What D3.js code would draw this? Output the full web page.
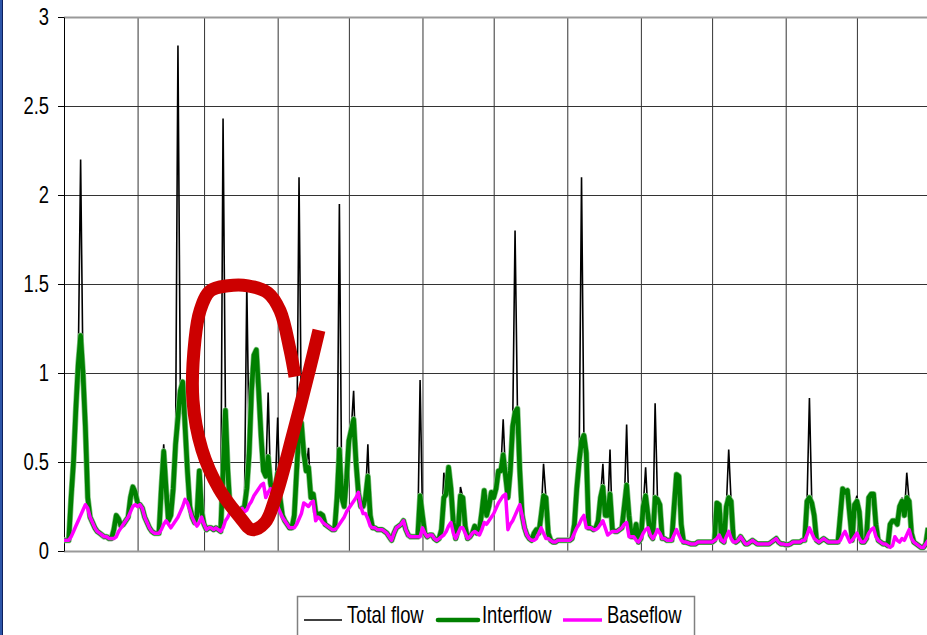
<!DOCTYPE html>
<html><head><meta charset="utf-8">
<script src="https://cdn.jsdelivr.net/npm/d3@7"></script>
<style>
body{margin:0;background:#fff;}
svg{display:block;}
text{font-family:'Liberation Sans',Arial,sans-serif;fill:#000;}
</style>
</head><body>
<svg id="chart" width="927" height="635"></svg>
<script>
// ---------- data ----------
const monthStarts = [0,31,59,90,120,151,181,212,243,273,304,334,365];
const yTicks = [0,0.5,1,1.5,2,2.5,3];
const yTickLabels = ["0","0.5","1","1.5","2","2.5","3"];
const seriesNames = ["Total flow","Interflow","Baseflow"];

const totalFlow = [
0.06,0.06,0.06,0.30,0.50,0.80,1.05,2.20,1.00,0.70,
0.30,0.19,0.16,0.13,0.11,0.10,0.09,0.08,0.08,0.07,
0.07,0.12,0.20,0.18,0.14,0.15,0.17,0.19,0.30,0.36,
0.33,0.27,0.26,0.24,0.19,0.16,0.13,0.11,0.10,0.10,
0.10,0.35,0.60,0.35,0.17,0.20,0.35,0.60,2.84,0.90,
0.95,0.70,0.45,0.25,0.19,0.16,0.20,0.45,0.22,0.15,
0.12,0.13,0.13,0.12,0.13,0.12,0.11,2.43,0.79,0.45,
0.23,0.23,0.20,0.21,0.22,0.24,0.25,1.50,0.55,0.90,
1.10,1.13,0.90,0.65,0.45,0.42,0.89,0.38,0.32,0.35,
0.75,0.30,0.20,0.17,0.15,0.13,0.13,0.20,0.45,2.10,
0.72,0.55,0.45,0.58,0.30,0.32,0.22,0.20,0.21,0.20,
0.15,0.14,0.13,0.12,0.12,0.30,1.95,0.30,0.25,0.40,
0.62,0.68,0.90,0.50,0.33,0.25,0.25,0.30,0.60,0.20,
0.13,0.13,0.12,0.12,0.12,0.11,0.10,0.08,0.06,0.10,
0.13,0.14,0.15,0.17,0.12,0.09,0.08,0.08,0.08,0.08,
0.96,0.20,0.10,0.08,0.09,0.09,0.07,0.06,0.07,0.12,
0.44,0.32,0.47,0.35,0.16,0.07,0.12,0.36,0.30,0.14,
0.07,0.08,0.10,0.14,0.10,0.12,0.22,0.34,0.20,0.25,
0.33,0.30,0.35,0.45,0.45,0.74,0.42,0.30,0.45,0.70,
1.80,0.80,0.45,0.20,0.13,0.09,0.07,0.06,0.10,0.12,
0.10,0.20,0.49,0.30,0.10,0.06,0.05,0.05,0.06,0.06,
0.06,0.06,0.06,0.06,0.07,0.15,0.35,0.50,2.10,0.65,
0.55,0.13,0.13,0.12,0.13,0.17,0.30,0.49,0.20,0.20,
0.57,0.12,0.11,0.11,0.12,0.13,0.25,0.71,0.20,0.08,
0.08,0.15,0.05,0.07,0.25,0.47,0.20,0.09,0.07,0.83,
0.29,0.26,0.07,0.07,0.06,0.06,0.06,0.25,0.43,0.42,
0.15,0.05,0.05,0.045,0.04,0.04,0.04,0.05,0.05,0.05,
0.05,0.05,0.05,0.05,0.06,0.27,0.26,0.06,0.05,0.25,
0.57,0.28,0.06,0.05,0.06,0.08,0.06,0.04,0.04,0.05,
0.06,0.05,0.04,0.04,0.04,0.04,0.04,0.04,0.05,0.06,
0.07,0.05,0.04,0.04,0.035,0.035,0.04,0.05,0.05,0.05,
0.05,0.06,0.06,0.28,0.86,0.27,0.20,0.06,0.05,0.06,
0.07,0.06,0.05,0.05,0.05,0.05,0.05,0.20,0.36,0.33,
0.34,0.20,0.06,0.26,0.31,0.22,0.05,0.05,0.07,0.30,
0.32,0.32,0.15,0.06,0.05,0.04,0.04,0.03,0.15,0.17,
0.17,0.15,0.25,0.30,0.20,0.44,0.28,0.10,0.05,0.04,
0.03,0.02,0.02,0.04,0.13];

const interflow = [
0.06,0.06,0.06,0.30,0.50,0.80,1.05,1.21,1.00,0.70,
0.30,0.19,0.16,0.13,0.11,0.10,0.09,0.08,0.08,0.07,
0.07,0.12,0.20,0.18,0.14,0.15,0.17,0.19,0.30,0.36,
0.33,0.27,0.26,0.24,0.19,0.16,0.13,0.11,0.10,0.10,
0.10,0.35,0.56,0.35,0.17,0.20,0.35,0.60,0.75,0.90,
0.95,0.70,0.45,0.25,0.19,0.16,0.20,0.45,0.22,0.15,
0.12,0.13,0.13,0.12,0.13,0.12,0.11,0.45,0.79,0.45,
0.23,0.23,0.20,0.21,0.22,0.24,0.25,0.35,0.55,0.90,
1.10,1.13,0.90,0.65,0.45,0.42,0.53,0.38,0.32,0.35,
0.44,0.30,0.20,0.17,0.15,0.13,0.13,0.20,0.45,0.68,
0.72,0.55,0.45,0.47,0.30,0.32,0.22,0.20,0.21,0.20,
0.15,0.14,0.13,0.12,0.12,0.30,0.57,0.30,0.25,0.40,
0.62,0.68,0.74,0.50,0.33,0.25,0.25,0.30,0.42,0.20,
0.13,0.13,0.12,0.12,0.12,0.11,0.10,0.08,0.06,0.10,
0.13,0.14,0.15,0.17,0.12,0.09,0.08,0.08,0.08,0.08,
0.31,0.20,0.10,0.08,0.09,0.09,0.07,0.06,0.07,0.12,
0.30,0.32,0.47,0.35,0.16,0.07,0.12,0.31,0.30,0.14,
0.07,0.08,0.10,0.14,0.10,0.12,0.22,0.34,0.20,0.25,
0.33,0.30,0.35,0.45,0.45,0.54,0.42,0.30,0.45,0.70,
0.78,0.80,0.45,0.20,0.13,0.09,0.07,0.06,0.10,0.12,
0.10,0.20,0.31,0.30,0.10,0.06,0.05,0.05,0.06,0.06,
0.06,0.06,0.06,0.06,0.07,0.15,0.35,0.50,0.62,0.65,
0.55,0.13,0.13,0.12,0.13,0.17,0.30,0.36,0.20,0.20,
0.32,0.12,0.11,0.11,0.12,0.13,0.25,0.37,0.20,0.08,
0.08,0.15,0.05,0.07,0.25,0.31,0.20,0.09,0.07,0.30,
0.29,0.26,0.07,0.07,0.06,0.06,0.06,0.25,0.43,0.42,
0.15,0.05,0.05,0.045,0.04,0.04,0.04,0.05,0.05,0.05,
0.05,0.05,0.05,0.05,0.06,0.27,0.26,0.06,0.05,0.25,
0.30,0.28,0.06,0.05,0.06,0.08,0.06,0.04,0.04,0.05,
0.06,0.05,0.04,0.04,0.04,0.04,0.04,0.04,0.05,0.06,
0.07,0.05,0.04,0.04,0.035,0.035,0.04,0.05,0.05,0.05,
0.05,0.06,0.06,0.28,0.30,0.27,0.20,0.06,0.05,0.06,
0.07,0.06,0.05,0.05,0.05,0.05,0.05,0.20,0.35,0.33,
0.34,0.20,0.06,0.26,0.28,0.22,0.05,0.05,0.07,0.30,
0.32,0.32,0.15,0.06,0.05,0.04,0.04,0.03,0.15,0.17,
0.17,0.15,0.25,0.28,0.20,0.30,0.28,0.10,0.05,0.04,
0.03,0.02,0.02,0.04,0.13];

const baseflow = [
0.06,0.06,0.06,0.08,0.11,0.14,0.17,0.20,0.23,0.26,
0.24,0.19,0.16,0.13,0.11,0.10,0.09,0.08,0.08,0.07,
0.07,0.07,0.08,0.11,0.13,0.15,0.17,0.19,0.22,0.25,
0.26,0.25,0.26,0.24,0.19,0.16,0.13,0.11,0.10,0.10,
0.10,0.12,0.15,0.17,0.15,0.13,0.15,0.17,0.19,0.22,
0.25,0.29,0.27,0.23,0.19,0.16,0.14,0.16,0.19,0.15,
0.12,0.13,0.13,0.12,0.13,0.12,0.11,0.13,0.17,0.19,
0.22,0.23,0.20,0.21,0.22,0.24,0.22,0.23,0.26,0.28,
0.31,0.33,0.35,0.37,0.38,0.30,0.33,0.35,0.31,0.27,
0.25,0.22,0.19,0.17,0.15,0.13,0.13,0.13,0.15,0.18,
0.21,0.27,0.26,0.25,0.27,0.28,0.17,0.19,0.18,0.16,
0.15,0.14,0.13,0.12,0.12,0.13,0.15,0.17,0.19,0.22,
0.24,0.26,0.28,0.30,0.33,0.25,0.21,0.21,0.18,0.14,
0.13,0.13,0.12,0.12,0.12,0.11,0.10,0.08,0.06,0.10,
0.13,0.14,0.15,0.17,0.12,0.09,0.08,0.08,0.08,0.08,
0.08,0.13,0.10,0.08,0.09,0.09,0.07,0.06,0.07,0.08,
0.09,0.11,0.14,0.16,0.10,0.07,0.10,0.13,0.13,0.10,
0.07,0.08,0.10,0.11,0.10,0.09,0.12,0.16,0.15,0.17,
0.19,0.21,0.24,0.27,0.29,0.31,0.32,0.12,0.15,0.17,
0.20,0.23,0.26,0.20,0.13,0.09,0.07,0.06,0.06,0.07,
0.10,0.13,0.10,0.07,0.07,0.06,0.05,0.05,0.06,0.06,
0.06,0.06,0.06,0.06,0.07,0.10,0.13,0.15,0.18,0.20,
0.13,0.13,0.13,0.12,0.12,0.13,0.15,0.17,0.13,0.09,
0.10,0.11,0.11,0.11,0.12,0.13,0.15,0.16,0.08,0.08,
0.08,0.06,0.05,0.07,0.10,0.12,0.13,0.09,0.07,0.09,
0.12,0.10,0.07,0.07,0.06,0.06,0.06,0.09,0.12,0.09,
0.06,0.05,0.05,0.045,0.04,0.04,0.04,0.05,0.05,0.05,
0.05,0.05,0.05,0.05,0.06,0.07,0.09,0.06,0.05,0.08,
0.11,0.07,0.05,0.05,0.06,0.08,0.06,0.04,0.04,0.05,
0.06,0.05,0.04,0.04,0.04,0.04,0.04,0.04,0.05,0.06,
0.07,0.05,0.04,0.04,0.035,0.035,0.04,0.05,0.05,0.05,
0.05,0.06,0.06,0.09,0.13,0.10,0.07,0.06,0.05,0.06,
0.07,0.06,0.05,0.05,0.05,0.05,0.05,0.06,0.09,0.11,
0.08,0.05,0.06,0.08,0.10,0.07,0.05,0.05,0.07,0.10,
0.12,0.13,0.08,0.06,0.05,0.04,0.04,0.03,0.02,0.03,
0.08,0.06,0.05,0.07,0.06,0.09,0.12,0.07,0.05,0.04,
0.03,0.02,0.02,0.04,0.06];

// hand-drawn red annotation stroke, in data coordinates [day, value]
const annotationDays   = [97.3,95.2,91.0,85.9,77.5,69.1,61.5,57.3,55.2,54.3,58.1,65.3,74.1,79.2,84.7,89.3,96.5,103.6,107.4];
const annotationValues = [0.98,1.13,1.35,1.45,1.49,1.49,1.46,1.35,1.19,0.85,0.57,0.35,0.19,0.12,0.16,0.31,0.66,1.03,1.24];

// ---------- chart ----------
const W = 927, H = 635;
const P = {left:64, top:17, right:930.5, bottom:551};
const NARROW = 0.8;   // the original typeface is horizontally condensed
const svg = d3.select('#chart');
svg.append('rect').attr('width',W).attr('height',H).attr('fill','#fff');

const x = d3.scaleLinear().domain([0,365]).range([P.left,P.right]);
const y = d3.scaleLinear().domain([0,3]).range([P.bottom,P.top]);

// vertical (month) gridlines
svg.append('g')
  .attr('transform',`translate(0,${P.bottom})`)
  .call(d3.axisBottom(x).tickValues(monthStarts.slice(1)).tickSize(-(P.bottom-P.top)).tickFormat(''))
  .call(g=>{g.select('.domain').remove(); g.selectAll('line').attr('stroke','#333');});

// horizontal gridlines
svg.append('g')
  .attr('transform',`translate(${P.left},0)`)
  .call(d3.axisLeft(y).tickValues(yTicks.slice(1,-1)).tickSize(-(P.right-P.left)).tickFormat(''))
  .call(g=>{g.select('.domain').remove(); g.selectAll('line').attr('stroke','#333');});

// plot top border & bottom axis line
svg.append('line').attr('x1',P.left).attr('x2',W).attr('y1',y(3)+0.5).attr('y2',y(3)+0.5)
  .attr('stroke','#999').attr('stroke-width',2);
svg.append('line').attr('x1',P.left).attr('x2',W).attr('y1',y(0)+0.5).attr('y2',y(0)+0.5)
  .attr('stroke','#999').attr('stroke-width',2);

// y axis
svg.append('g')
  .attr('transform',`translate(${P.left},0)`)
  .call(d3.axisLeft(y).tickValues(yTicks).tickSize(6).tickSizeOuter(0).tickPadding(8)
        .tickFormat((d,i)=>yTickLabels[i]))
  .call(g=>{
    g.select('.domain').attr('stroke','#000').attr('stroke-width',1);
    g.selectAll('line').attr('stroke','#000');
    g.selectAll('text').attr('font-size',23).attr('fill','#000')
      .attr('x',0).attr('transform',`translate(-15,0) scale(${NARROW},1)`);
  });

// series lines
const line = d3.line().x((d,i)=>x(i)).y(d=>y(d));
const g = svg.append('g');
g.append('path').datum(totalFlow).attr('d',line)
  .attr('fill','none').attr('stroke','#000').attr('stroke-width',1.6).attr('stroke-linejoin','miter');
g.append('path').datum(interflow).attr('d',line)
  .attr('fill','none').attr('stroke','#86c486').attr('stroke-width',6).attr('stroke-linejoin','round');
g.append('path').datum(interflow).attr('d',line)
  .attr('fill','none').attr('stroke','#008000').attr('stroke-width',4.6).attr('stroke-linejoin','round');
g.append('path').datum(baseflow).attr('d',line)
  .attr('fill','none').attr('stroke','#ff00ff').attr('stroke-width',3.5).attr('stroke-linejoin','round');

// annotation
const annot = annotationDays.map((d,i)=>[d, annotationValues[i]]);
svg.append('path').datum(annot)
  .attr('d', d3.line().x(d=>x(d[0])).y(d=>y(d[1])).curve(d3.curveCatmullRom.alpha(0.5)))
  .attr('fill','none').attr('stroke','#cc0000').attr('stroke-width',13)
  .attr('stroke-linecap','butt').attr('stroke-linejoin','round');

// legend
const lg = svg.append('g');
lg.append('rect').attr('x',297.5).attr('y',596.5).attr('width',397).attr('height',50)
  .attr('fill','#fff').attr('stroke','#808080').attr('stroke-width',1.5);
const legendStyle = [
  {color:'#000', width:1.6, x1:304, x2:342, tx:347},
  {color:'#008000', width:4.6, x1:438, x2:478, tx:482},
  {color:'#ff00ff', width:3.5, x1:563, x2:602, tx:607}
];
seriesNames.forEach((name,i)=>{
  const s = legendStyle[i];
  lg.append('line').attr('x1',s.x1).attr('x2',s.x2).attr('y1',620).attr('y2',620)
    .attr('stroke',s.color).attr('stroke-width',s.width).attr('stroke-linecap', i===1?'round':'butt');
  lg.append('text').attr('transform',`translate(${s.tx},623) scale(${NARROW},1)`)
    .attr('font-size',23).text(name);
});

// left blue frame edge
svg.append('rect').attr('x',0).attr('y',0).attr('width',2).attr('height',H).attr('fill','#2d55a8');
svg.append('rect').attr('x',2).attr('y',0).attr('width',1).attr('height',H).attr('fill','#0d1f5c');
</script>
</body></html>
